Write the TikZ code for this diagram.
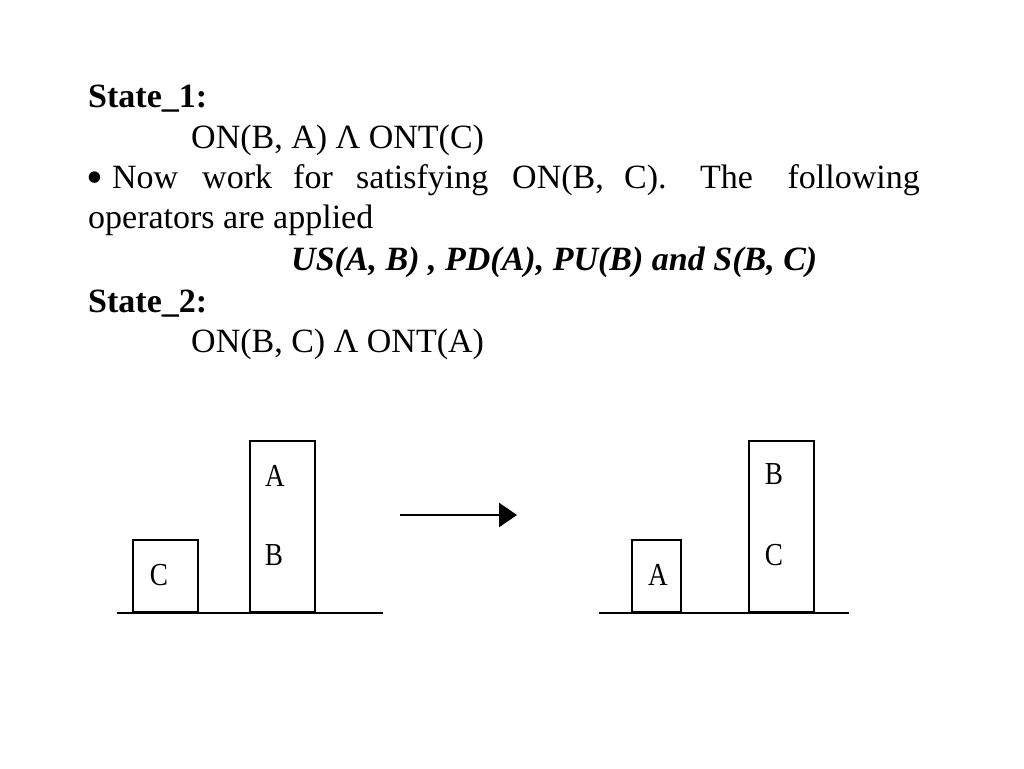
\documentclass[tikz,border=0pt]{standalone}
\usepackage{fontspec}
\setmainfont{Liberation Serif}
\usetikzlibrary{arrows.meta}
\begin{document}
\begin{tikzpicture}[x=1pt,y=-1pt,
  txt/.style={anchor=base west,inner sep=0pt,font=\fontsize{34}{40}\selectfont},
  blk/.style={draw,line width=2.4pt,inner sep=0pt},
  lbl/.style={inner sep=0pt,font=\fontsize{32}{32}\selectfont},
  ground/.style={line width=2.4pt},
  arr/.style={line width=2.4pt,-{Triangle[length=18pt,width=24pt]}}]
\useasboundingbox[fill=white] (0,0) rectangle (1024,768);
% text
\node[txt,font=\fontsize{34}{40}\selectfont\bfseries] (s1) at (88,107) {State\_1:};
\node[txt] (e1) at (191,148) {ON(B, A) Λ ONT(C)};
\node[txt,font=\fontsize{48}{48}\selectfont] (w0) at (86,193) {\textbullet};
\node[txt] (w1) at (112,188) {Now};
\node[txt] (w2) at (202,188) {work};
\node[txt] (w3) at (293,188) {for};
\node[txt] (w4) at (356,188) {satisfying};
\node[txt] (w5) at (512,188) {ON(B,};
\node[txt] (w5b) at (624,188) {C).};
\node[txt] (w6) at (700,188) {The};
\node[txt,anchor=base east] (w7) at (920,188) {following};
\node[txt] (l2) at (88,228) {operators are applied};
\node[txt,font=\fontsize{34}{40}\selectfont\bfseries\itshape] (ops) at (291,270) {US(A, B) , PD(A), PU(B) and S(B, C)};
\node[txt,font=\fontsize{34}{40}\selectfont\bfseries] (s2) at (88,312) {State\_2:};
\node[txt] (e2) at (191,352) {ON(B, C) Λ ONT(A)};
% left scene
\node[blk,minimum width=65pt,minimum height=72pt] (bc) at (165.5,576) {};
\node[blk,minimum width=65pt,minimum height=171pt] (bab) at (282.5,526.5) {};
\node[lbl] (tc) at (159,575) {\scalebox{0.85}[1]{C}};
\node[lbl] (ta) at (275,475.5) {\scalebox{0.85}[1]{A}};
\node[lbl] (tb) at (274,555) {\scalebox{0.85}[1]{B}};
\coordinate (g1a) at (117,613);
\coordinate (g1b) at (383,613);
\draw[ground] (g1a) -- (g1b);
% arrow
\coordinate (a1) at (400,515);
\coordinate (a2) at (517,515);
\draw[arr] (a1) -- (a2);
% right scene
\node[blk,minimum width=49pt,minimum height=72pt] (ra) at (656.5,576) {};
\node[blk,minimum width=65pt,minimum height=171pt] (rbc) at (781.5,526.5) {};
\node[lbl] (tra) at (658,575) {\scalebox{0.85}[1]{A}};
\node[lbl] (trb) at (774,474) {\scalebox{0.85}[1]{B}};
\node[lbl] (trc) at (774,555) {\scalebox{0.85}[1]{C}};
\coordinate (g2a) at (599,613);
\coordinate (g2b) at (849,613);
\draw[ground] (g2a) -- (g2b);
\end{tikzpicture}
\end{document}
